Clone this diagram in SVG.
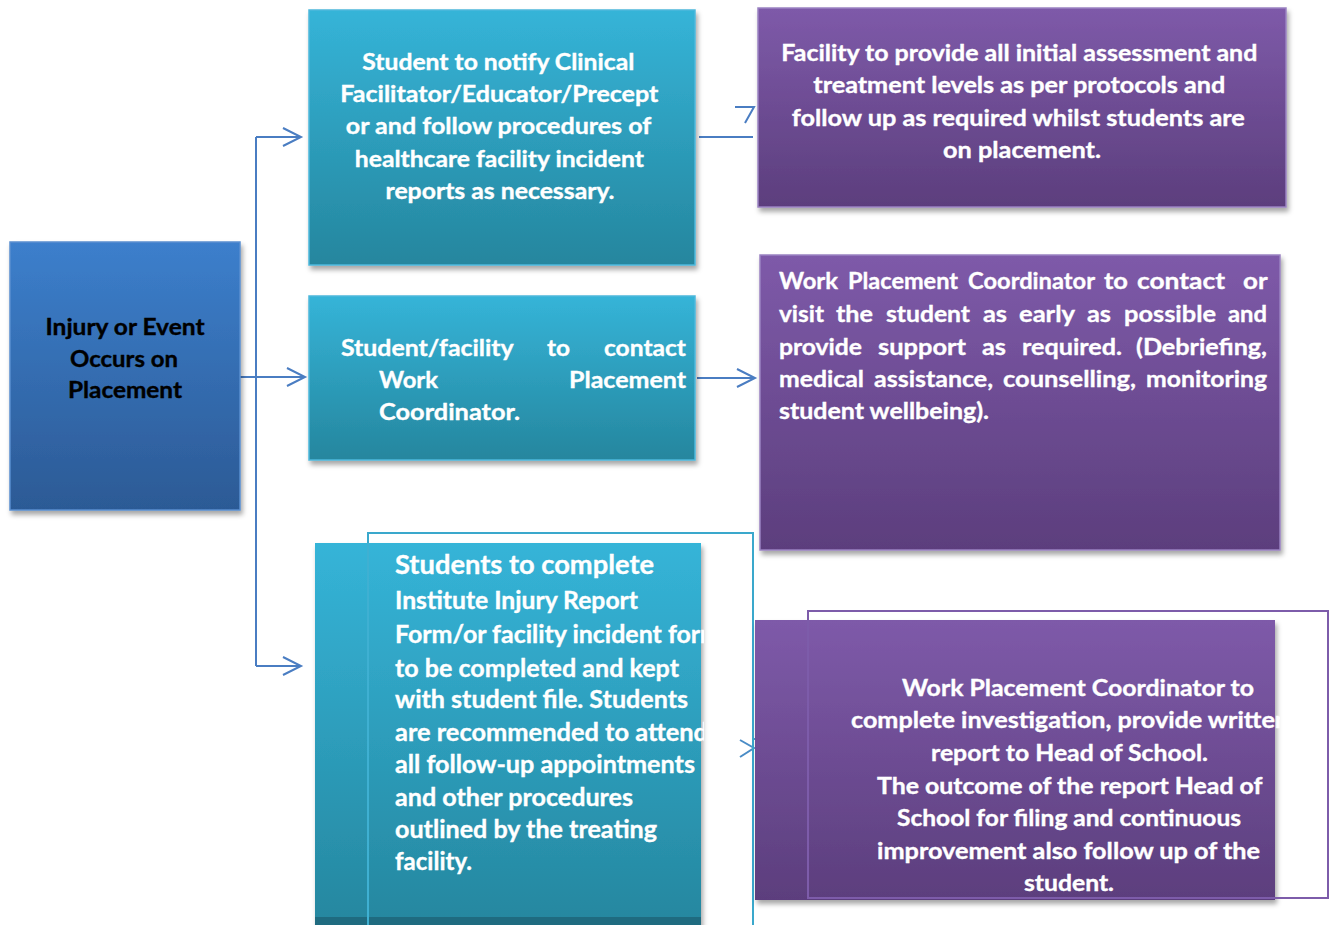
<svg xmlns="http://www.w3.org/2000/svg" width="1337" height="925" viewBox="0 0 1337 925">
<defs>
<style>
.t{font-family:Lato,"Open Sans","Liberation Sans",sans-serif;font-weight:bold;font-size:22px;fill:#fff;stroke:#fff;stroke-width:0.35}
.k{fill:#000;stroke:#000}
.w{font-size:23.5px}
.c{stroke:#4a7dc2;stroke-width:2;fill:none}
.box{stroke-width:1.5}
</style>
<linearGradient id="gB" x1="0" y1="0" x2="0" y2="1"><stop offset="0" stop-color="#3c7fcc"/><stop offset="1" stop-color="#2c5a95"/></linearGradient>
<linearGradient id="gT" x1="0" y1="0" x2="0" y2="1"><stop offset="0" stop-color="#35b4d8"/><stop offset="1" stop-color="#25869e"/></linearGradient>
<linearGradient id="gP" x1="0" y1="0" x2="0" y2="1"><stop offset="0" stop-color="#7e5aa9"/><stop offset="1" stop-color="#5c3e7d"/></linearGradient>
<filter id="sh" x="-5%" y="-5%" width="115%" height="120%"><feDropShadow dx="2" dy="4" stdDeviation="2.5" flood-color="#000" flood-opacity="0.35"/></filter>
<marker id="ah" markerUnits="userSpaceOnUse" markerWidth="22" markerHeight="22" refX="19" refY="10" orient="auto"><path d="M1,1 L19,10 L1,19" fill="none" stroke="#4a7dc2" stroke-width="2"/></marker>
<clipPath id="clipB3"><rect x="300" y="530" width="404" height="395"/></clipPath>
<clipPath id="clipC3"><rect x="740" y="600" width="540" height="320"/></clipPath>
</defs>
<rect width="1337" height="925" fill="#fff"/>

<g id="connectors">
<path class="c" d="M256,137 V666"/>
<path class="c" d="M256,137 H301" marker-end="url(#ah)"/>
<path class="c" d="M232,377 H305" marker-end="url(#ah)"/>
<path class="c" d="M256,666 H301" marker-end="url(#ah)"/>
<path class="c" d="M699,137 H753"/>
<path class="c" d="M735,107 H754 L745,123"/>
<path class="c" d="M697,378 H755" marker-end="url(#ah)"/>
<path d="M740,740 L754,748 L740,757" fill="none" stroke="#4a8cc6" stroke-width="2"/>
<path d="M753,739 H808" fill="none" stroke="#4a9cc8" stroke-width="2"/>
</g>

<g id="node-injury">
<rect class="box" x="10" y="242" width="230" height="268" fill="url(#gB)" stroke="#5a8fd0" filter="url(#sh)"/>
<text class="t k" text-anchor="middle"><tspan x="125" y="335" textLength="159" lengthAdjust="spacingAndGlyphs">Injury or Event</tspan><tspan x="124" y="367" textLength="108" lengthAdjust="spacingAndGlyphs">Occurs on</tspan><tspan x="125" y="398" textLength="114" lengthAdjust="spacingAndGlyphs">Placement</tspan></text>
</g>

<g id="node-notify">
<rect class="box" x="309" y="10" width="386" height="255" fill="url(#gT)" stroke="#4cb8dc" filter="url(#sh)"/>
<text class="t" text-anchor="middle">
<tspan x="501" y="70" textLength="272" lengthAdjust="spacingAndGlyphs">Student to notify Clinical</tspan>
<tspan x="502" y="102" textLength="318" lengthAdjust="spacingAndGlyphs">Facilitator/Educator/Precept</tspan>
<tspan x="501" y="134" textLength="305" lengthAdjust="spacingAndGlyphs">or and follow procedures of</tspan>
<tspan x="502" y="167" textLength="289" lengthAdjust="spacingAndGlyphs">healthcare facility incident</tspan>
<tspan x="500" y="199" textLength="229" lengthAdjust="spacingAndGlyphs">reports as necessary.</tspan>
</text>
</g>

<g id="node-contact">
<rect class="box" x="309" y="296" width="386" height="164" fill="url(#gT)" stroke="#4cb8dc" filter="url(#sh)"/>
<text class="t w">
<tspan x="341" y="356" textLength="172" lengthAdjust="spacingAndGlyphs">Student/facility</tspan>
<tspan x="547" y="356" textLength="23" lengthAdjust="spacingAndGlyphs">to</tspan>
<tspan x="604" y="356" textLength="82" lengthAdjust="spacingAndGlyphs">contact</tspan>
<tspan x="379" y="388" textLength="59" lengthAdjust="spacingAndGlyphs">Work</tspan>
<tspan x="569" y="388" textLength="117" lengthAdjust="spacingAndGlyphs">Placement</tspan>
<tspan x="379" y="420" textLength="141" lengthAdjust="spacingAndGlyphs">Coordinator.</tspan>
</text>
</g>

<g id="node-report">
<rect x="368" y="533" width="385" height="400" fill="none" stroke="#3aa8cc" stroke-width="2"/>
<rect x="315" y="543" width="386" height="390" fill="url(#gT)" filter="url(#sh)"/>
<rect x="315" y="917" width="386" height="8" fill="#1f6b80"/>
<path d="M368,543 V925" stroke="#3fb0d2" stroke-width="2"/>
<g clip-path="url(#clipB3)">
<text class="t">
<tspan x="395" y="574" font-size="26" textLength="259" lengthAdjust="spacingAndGlyphs">Students to complete</tspan>
<tspan x="395" y="609" font-size="24" textLength="243" lengthAdjust="spacingAndGlyphs">Institute Injury Report</tspan>
<tspan x="395" y="643" font-size="24" textLength="326" lengthAdjust="spacingAndGlyphs">Form/or facility incident form</tspan>
<tspan x="395" y="677" font-size="24" textLength="284" lengthAdjust="spacingAndGlyphs">to be completed and kept</tspan>
<tspan x="395" y="708" font-size="24" textLength="293" lengthAdjust="spacingAndGlyphs">with student file. Students</tspan>
<tspan x="395" y="741" font-size="24" textLength="313" lengthAdjust="spacingAndGlyphs">are recommended to attend</tspan>
<tspan x="395" y="773" font-size="24" textLength="300" lengthAdjust="spacingAndGlyphs">all follow-up appointments</tspan>
<tspan x="395" y="806" font-size="24" textLength="238" lengthAdjust="spacingAndGlyphs">and other procedures</tspan>
<tspan x="395" y="838" font-size="24" textLength="262" lengthAdjust="spacingAndGlyphs">outlined by the treating</tspan>
<tspan x="395" y="870" font-size="24" textLength="77" lengthAdjust="spacingAndGlyphs">facility.</tspan>
</text>
</g>
</g>

<g id="node-facility">
<rect class="box" x="758" y="8" width="528" height="199" fill="url(#gP)" stroke="#9a82c2" filter="url(#sh)"/>
<text class="t" text-anchor="middle">
<tspan x="1022" y="61" textLength="476" lengthAdjust="spacingAndGlyphs">Facility to provide all initial assessment and</tspan>
<tspan x="1022" y="93" textLength="412" lengthAdjust="spacingAndGlyphs">treatment levels as per protocols and</tspan>
<tspan x="1021" y="126" textLength="453" lengthAdjust="spacingAndGlyphs">follow up as required whilst students are</tspan>
<tspan x="1022" y="158" textLength="158" lengthAdjust="spacingAndGlyphs">on placement.</tspan>
</text>
</g>

<g id="node-coordinator">
<rect class="box" x="760" y="255" width="520" height="295" fill="url(#gP)" stroke="#9a82c2" filter="url(#sh)"/>
<text class="t w">
<tspan y="289" x="779" textLength="59" lengthAdjust="spacingAndGlyphs">Work</tspan><tspan y="289" x="848" textLength="110" lengthAdjust="spacingAndGlyphs">Placement</tspan><tspan y="289" x="968" textLength="127" lengthAdjust="spacingAndGlyphs">Coordinator</tspan><tspan y="289" x="1104" textLength="24" lengthAdjust="spacingAndGlyphs">to</tspan><tspan y="289" x="1137" textLength="88" lengthAdjust="spacingAndGlyphs">contact</tspan><tspan y="289" x="1243" textLength="24" lengthAdjust="spacingAndGlyphs">or</tspan>
<tspan y="322" x="779" textLength="45" lengthAdjust="spacingAndGlyphs">visit</tspan><tspan y="322" x="836" textLength="37" lengthAdjust="spacingAndGlyphs">the</tspan><tspan y="322" x="886" textLength="84" lengthAdjust="spacingAndGlyphs">student</tspan><tspan y="322" x="983" textLength="24" lengthAdjust="spacingAndGlyphs">as</tspan><tspan y="322" x="1019" textLength="56" lengthAdjust="spacingAndGlyphs">early</tspan><tspan y="322" x="1087" textLength="24" lengthAdjust="spacingAndGlyphs">as</tspan><tspan y="322" x="1124" textLength="92" lengthAdjust="spacingAndGlyphs">possible</tspan><tspan y="322" x="1228" textLength="39" lengthAdjust="spacingAndGlyphs">and</tspan>
<tspan y="355" x="779" textLength="83" lengthAdjust="spacingAndGlyphs">provide</tspan><tspan y="355" x="878" textLength="88" lengthAdjust="spacingAndGlyphs">support</tspan><tspan y="355" x="982" textLength="24" lengthAdjust="spacingAndGlyphs">as</tspan><tspan y="355" x="1022" textLength="100" lengthAdjust="spacingAndGlyphs">required.</tspan><tspan y="355" x="1136" textLength="131" lengthAdjust="spacingAndGlyphs">(Debriefing,</tspan>
<tspan y="387" x="779" textLength="85" lengthAdjust="spacingAndGlyphs">medical</tspan><tspan y="387" x="874" textLength="119" lengthAdjust="spacingAndGlyphs">assistance,</tspan><tspan y="387" x="1003" textLength="133" lengthAdjust="spacingAndGlyphs">counselling,</tspan><tspan y="387" x="1146" textLength="121" lengthAdjust="spacingAndGlyphs">monitoring</tspan>
<tspan y="419" x="779" textLength="210" lengthAdjust="spacingAndGlyphs">student wellbeing).</tspan>
</text>
</g>

<g id="node-investigation">
<rect x="755" y="620" width="520" height="280" fill="url(#gP)" filter="url(#sh)"/>
<rect x="808" y="611" width="520" height="287" fill="none" stroke="#7d5caa" stroke-width="2"/>
<g clip-path="url(#clipC3)">
<text class="t">
<tspan x="902" y="696" textLength="352" lengthAdjust="spacingAndGlyphs">Work Placement Coordinator to</tspan>
<tspan x="851" y="728" textLength="438" lengthAdjust="spacingAndGlyphs">complete investigation, provide written</tspan>
<tspan x="931" y="761" textLength="277" lengthAdjust="spacingAndGlyphs">report to Head of School.</tspan>
<tspan x="877" y="794" textLength="385" lengthAdjust="spacingAndGlyphs">The outcome of the report Head of</tspan>
<tspan x="897" y="826" textLength="344" lengthAdjust="spacingAndGlyphs">School for filing and continuous</tspan>
<tspan x="877" y="859" textLength="383" lengthAdjust="spacingAndGlyphs">improvement also follow up of the</tspan>
<tspan x="1024" y="891" textLength="90" lengthAdjust="spacingAndGlyphs">student.</tspan>
</text>
</g>
</g>
</svg>
